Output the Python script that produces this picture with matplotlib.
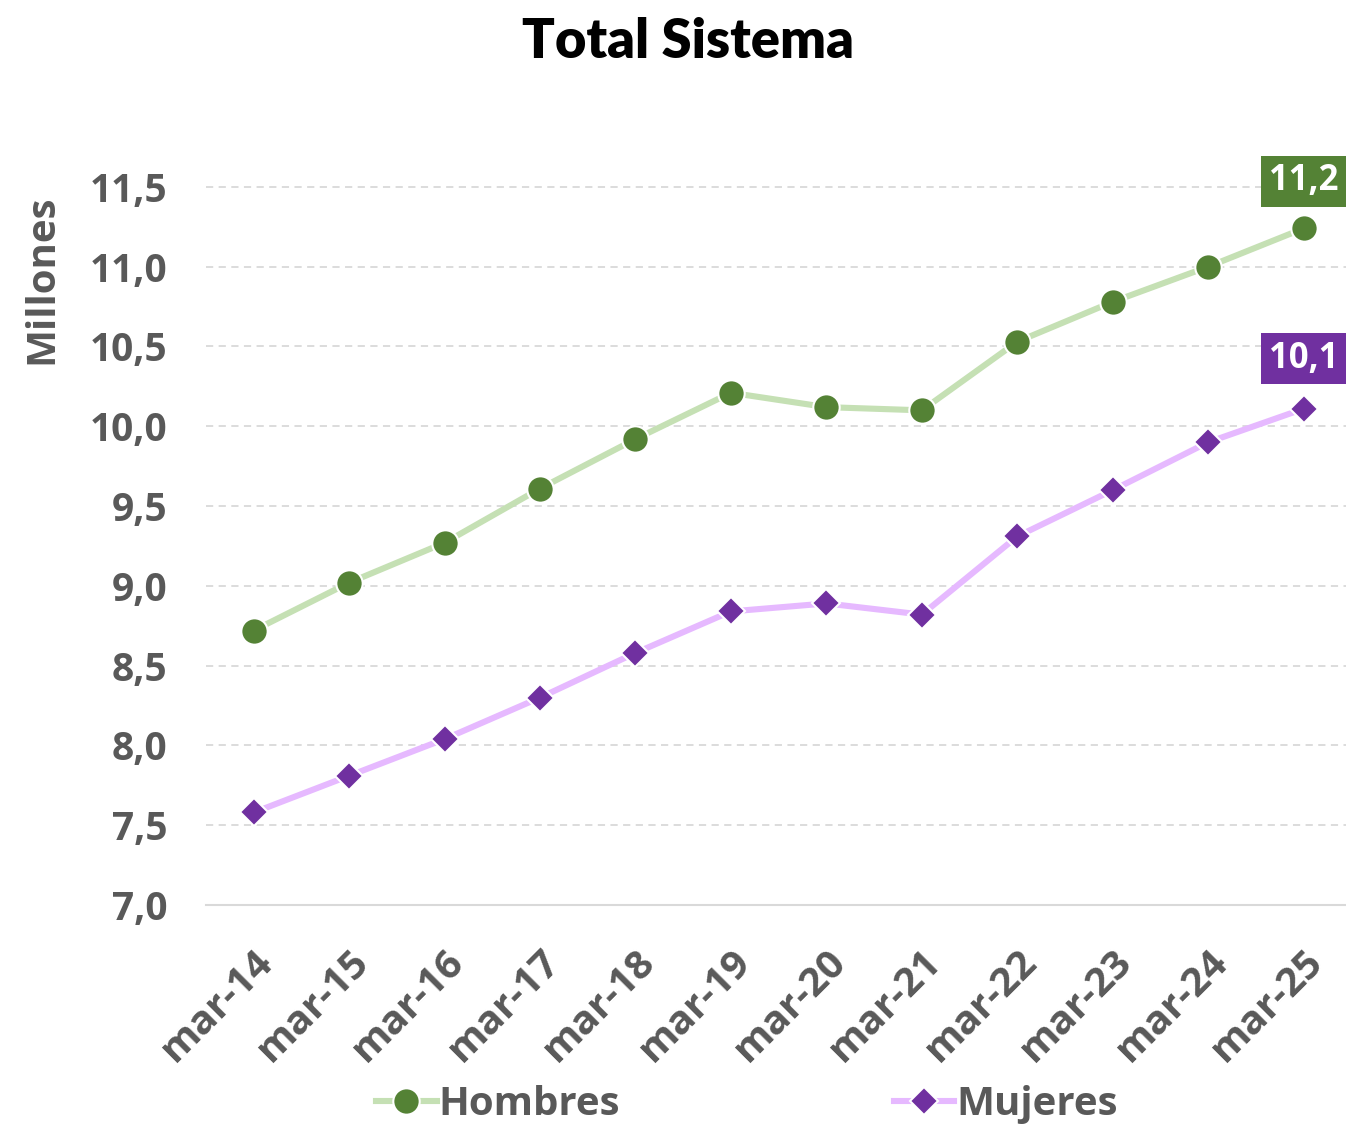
import numpy as np
import matplotlib.pyplot as plt

periods = ["mar-14", "mar-15", "mar-16", "mar-17", "mar-18", "mar-19",
           "mar-20", "mar-21", "mar-22", "mar-23", "mar-24", "mar-25"]
hombres = [8.72, 9.02, 9.27, 9.61, 9.92, 10.21, 10.12, 10.10, 10.53, 10.78, 11.00, 11.24]
mujeres = [7.58, 7.81, 8.04, 8.30, 8.58, 8.84, 8.89, 8.82, 9.31, 9.60, 9.90, 10.11]
yticks = [7.0, 7.5, 8.0, 8.5, 9.0, 9.5, 10.0, 10.5, 11.0, 11.5]

plt.rcParams['font.family'] = ['Open Sans', 'DejaVu Sans']
gray = '#595959'

fig = plt.figure(figsize=(13.46, 11.24), dpi=100)
ax = fig.add_axes([0.153, 0.1948, 0.851, 0.6744])

x = np.arange(len(periods))
ax.plot(x, hombres, color='#C5E0B4', lw=4.4, marker='o', markersize=19,
        markerfacecolor='#548235', markeredgecolor='white', markeredgewidth=1.5,
        label='Hombres', zorder=3)
ax.plot(x, mujeres, color='#E6B9FF', lw=4.4, marker='D', markersize=14,
        markerfacecolor='#7030A0', markeredgecolor='white', markeredgewidth=1.5,
        label='Mujeres', zorder=3)

# etiquetas del ultimo dato
ax.annotate(f"{hombres[-1]:.1f}".replace('.', ','), (x[-1], hombres[-1]),
            xytext=(0, 34), textcoords='offset points', ha='center', va='center',
            color='white', fontsize=25, fontweight='bold',
            bbox=dict(boxstyle='square,pad=0.22', fc='#548235', ec='none'))
ax.annotate(f"{mujeres[-1]:.1f}".replace('.', ','), (x[-1], mujeres[-1]),
            xytext=(0, 36), textcoords='offset points', ha='center', va='center',
            color='white', fontsize=25, fontweight='bold',
            bbox=dict(boxstyle='square,pad=0.22', fc='#7030A0', ec='none'))

ax.set_xlim(-0.5, 11.5)
ax.set_ylim(7.0, 11.75)
ax.set_yticks(yticks)
ax.set_yticklabels([f"{v:.1f}".replace('.', ',') for v in yticks])
ax.set_xticks(x)
ax.set_xticklabels(periods, rotation=45, ha='right', rotation_mode='anchor')
ax.tick_params(length=0, labelsize=28, labelcolor=gray)
ax.tick_params(axis='x', labelsize=29, pad=27)
ax.tick_params(axis='y', pad=28)
for lab in ax.get_xticklabels() + ax.get_yticklabels():
    lab.set_fontweight('bold')

ax.grid(axis='y', color='#D9D9D9', linestyle=(0, (4, 3)), lw=1.3)
ax.set_axisbelow(True)
for s in ['top', 'right', 'left']:
    ax.spines[s].set_visible(False)
ax.spines['bottom'].set_color('#D9D9D9')
ax.spines['bottom'].set_linewidth(1.5)

ax.set_ylabel("Millones", fontsize=29, fontweight='bold', color=gray)
ax.yaxis.set_label_coords(-0.126, 0.826)

fig.text(0.511, 0.963, "Total Sistema", ha='center', va='center',
         fontsize=39, fontweight='heavy', color='black', family='Lato')

leg = fig.legend(loc='lower center', bbox_to_anchor=(0.555, -0.032), ncol=2,
                 frameon=False, fontsize=29, handlelength=1.5, handletextpad=0.05,
                 columnspacing=6.8)
for t in leg.get_texts():
    t.set_color(gray)
    t.set_fontweight('bold')

fig.savefig('out.png', dpi=100)
